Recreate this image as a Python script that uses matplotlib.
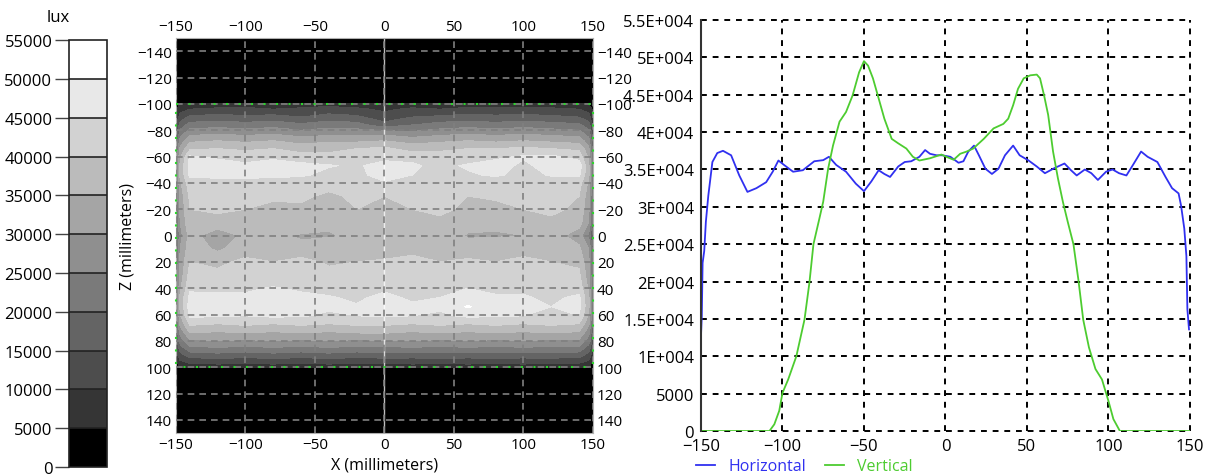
import numpy as np
import matplotlib
matplotlib.use("Agg")
import matplotlib.pyplot as plt
from matplotlib.colors import ListedColormap, BoundaryNorm
from matplotlib.cm import ScalarMappable

plt.rcParams['font.family'] = ['Open Sans', 'DejaVu Sans']
plt.rcParams['font.size'] = 12

# --- colour bands (lux) ---
bounds = [0, 5000, 10000, 15000, 20000, 25000, 30000, 35000, 40000, 45000, 50000, 55000]
band_colors = ['#000000', '#353535', '#4d4d4d', '#646464', '#7a7a7a', '#8f8f8f',
               '#a5a5a5', '#bbbbbb', '#d2d2d2', '#e8e8e8', '#ffffff']

# --- illuminance map, values in klux, rows = Z, cols = X ---
map_x = [-150, -147, -140, -120, -100, -80, -60, -40, -20, 0, 20, 40, 60, 80, 100, 120, 140, 147, 150]
map_z = [-150, -101, -100, -96, -90, -84, -78, -72, -66, -60, -53, -46, -40, -30, -20, -10, 0,
         10, 20, 30, 40, 47, 54, 61, 67, 73, 79, 85, 91, 96, 100, 101, 150]
map_klux = [
    [0, 0, 0, 0, 0, 0, 0, 0, 0, 0, 0, 0, 0, 0, 0, 0, 0, 0, 0],
    [0, 0, 0, 0, 0, 0, 0, 0, 0, 0, 0, 0, 0, 0, 0, 0, 0, 0, 0],
    [2, 5, 7, 7, 8, 7, 7, 8, 7, 6, 7, 7, 8, 7, 8, 7, 7, 5, 2],
    [4, 8, 10, 11, 11, 10, 11, 12, 11, 9, 11, 10, 11, 12, 11, 11, 10, 8, 4],
    [6, 12, 16, 17, 16, 17, 15, 17, 16, 12, 15, 16, 17, 16, 17, 16, 15, 12, 6],
    [9, 17, 22, 23, 22, 23, 21, 23, 22, 17, 20, 22, 23, 22, 23, 22, 21, 17, 9],
    [12, 22, 28, 29, 28, 29, 27, 28, 28, 28, 26, 28, 29, 28, 29, 28, 27, 22, 12],
    [15, 27, 34, 35, 34, 35, 33, 34, 34, 35, 33, 34, 35, 34, 35, 34, 33, 27, 15],
    [18, 31, 39, 40, 39, 40, 38, 39, 40, 41, 38, 39, 40, 40, 41, 40, 39, 31, 18],
    [20, 34, 45.5, 44, 43, 44, 42, 41, 43, 42.5, 43, 42, 41, 44, 45.5, 46, 43, 34, 20],
    [21, 36, 47, 47.5, 46, 47, 46.5, 45.5, 44, 48, 46, 43, 46, 47, 44, 47, 48, 36, 21],
    [21, 36, 46, 47, 46.5, 45.5, 46, 43, 42, 49.5, 45, 42, 44, 46, 43, 45.5, 46, 36, 21],
    [20, 34, 43, 42, 43, 44, 41, 42, 41, 44, 42, 41, 42, 41, 43, 42, 42, 34, 20],
    [19, 32, 41, 40, 41, 42, 41, 39, 41, 40, 41, 42, 40, 41, 42, 41, 40, 32, 19],
    [18, 31, 40, 41, 40, 37, 39, 38.5, 40, 38, 40, 41, 39, 38, 40, 41, 39, 31, 18],
    [18, 30, 39, 38, 37, 36, 38, 36, 38.5, 37, 38, 39, 37, 36, 38, 39, 37, 30, 18],
    [13, 28, 37, 32, 36, 36, 34.5, 34.5, 36, 37, 37, 38, 34.5, 34.5, 35, 37.5, 32.5, 24, 13],
    [18, 30, 38, 34, 38, 37, 36, 38, 37, 38, 39, 38, 37, 38, 37, 38, 36, 30, 18],
    [19, 31, 40, 39, 41, 40, 42, 39, 40, 40.5, 41, 40, 41, 40, 42, 40, 39, 31, 19],
    [19, 32, 42, 41, 42, 41, 43, 42, 41, 42, 43, 42, 43, 41, 42, 43, 41, 32, 19],
    [20, 34, 44, 43, 44, 45.5, 44, 43, 42, 44, 43.5, 44, 45, 43, 44, 44, 43, 34, 20],
    [21, 36, 46.5, 47, 46, 47, 46.5, 45.5, 44, 46.5, 44, 45, 47, 46, 45.5, 44, 46, 36, 21],
    [21, 36, 47.5, 47, 46, 47.5, 47, 46, 45.5, 47.5, 46, 46, 50.5, 47, 46, 45, 46.5, 36, 21],
    [20, 34, 46, 45.5, 45, 46, 45.5, 44, 45, 45.5, 45, 44, 46, 45.5, 45, 44, 45, 34, 20],
    [18, 31, 41, 40, 41, 40, 41, 40, 41, 41, 40, 41, 40, 41, 40, 41, 40, 31, 18],
    [16, 27, 36, 35, 36, 35, 36, 35, 36, 36, 35, 36, 35, 36, 35, 36, 35, 27, 16],
    [13, 23, 30, 31, 30, 31, 30, 31, 30, 31, 31, 30, 31, 30, 31, 30, 30, 23, 13],
    [10, 18, 24, 25, 24, 25, 24, 25, 24, 24, 25, 24, 25, 24, 25, 24, 24, 18, 10],
    [7, 13, 17, 18, 17, 18, 17, 18, 17, 18, 17, 18, 17, 18, 17, 18, 17, 13, 7],
    [4, 9, 11, 12, 11, 12, 11, 12, 11, 11, 12, 11, 12, 11, 12, 11, 11, 9, 4],
    [2, 5, 7, 7, 8, 7, 8, 7, 8, 6, 7, 8, 7, 8, 7, 8, 7, 5, 2],
    [0, 0, 0, 0, 0, 0, 0, 0, 0, 0, 0, 0, 0, 0, 0, 0, 0, 0, 0],
    [0, 0, 0, 0, 0, 0, 0, 0, 0, 0, 0, 0, 0, 0, 0, 0, 0, 0, 0],
]
lit_half_x = 150
lit_half_z = 100

# --- line profiles (lux) ---
horiz_x = [-150, -149.5, -149, -148, -147, -145.5, -143, -140, -136.5, -131.5, -126.5, -121.5,
           -116, -110, -106, -102.5, -99, -93.5, -87.5, -80.5, -75, -71.5, -67, -61, -55, -50,
           -45.5, -41, -37.5, -34, -29, -25, -21, -16, -12.5, -9.5, -5.5, -2, 3, 8, 11, 14, 17.5,
           20.5, 24.5, 28.5, 32.5, 36.5, 41.5, 45.5, 51, 56, 61, 67, 73, 77, 80.5, 85.5, 89.5,
           93.5, 98.5, 102.5, 106.5, 111, 115, 120, 124, 130, 135, 139, 143, 144.5, 146.5,
           147.8, 148.4, 149.4]
horiz_lux = [12700, 15400, 22500, 24100, 28000, 31500, 36000, 37200, 37500, 36900, 34200, 32000,
             32500, 33300, 34700, 36200, 35600, 34700, 34900, 36100, 36250, 36700, 35600, 34700,
             33100, 32100, 33400, 34900, 34400, 34000, 35400, 36000, 36100, 36700, 37600, 37100,
             36900, 36900, 36700, 35900, 36100, 37400, 38200, 36900, 35100, 34400, 35100, 36900,
             38200, 36900, 36200, 35400, 34500, 35200, 35800, 34900, 34200, 35000, 34500, 33600,
             34700, 35000, 34500, 34200, 35600, 37400, 36700, 36000, 34000, 32500, 31800, 30200,
             27100, 23400, 16300, 13600]
vert_z = [-150, -108, -105, -102, -100, -96.5, -91.5, -86.5, -83.5, -81, -77.5, -75, -72, -69,
          -65, -61, -57, -53, -50, -47.5, -44.5, -41.5, -37.5, -33, -29, -24, -20, -16, -9.5,
          -2.5, 0.5, 5, 9, 13, 17, 23.5, 29.5, 35.5, 38.5, 41.5, 44.5, 48, 52, 56, 58, 60.5, 63,
          66, 69, 72, 75, 78.5, 81.5, 84.5, 88, 92, 96, 100, 103, 107, 150]
vert_lux = [0, 0, 900, 2700, 5100, 6900, 10000, 14900, 19800, 25000, 28300, 30700, 35100, 38200,
            41400, 42700, 44900, 48000, 49500, 48900, 47200, 44900, 41800, 39100, 38500, 37800,
            36700, 36200, 36500, 37000, 36700, 36300, 37100, 37400, 37800, 39100, 40500, 41100,
            41800, 43600, 45800, 47200, 47600, 47700, 47200, 44900, 42300, 37400, 33800, 30700,
            28000, 25000, 20300, 14900, 11200, 8300, 6900, 4000, 1600, 0, 0]

x_ticks = [-150, -100, -50, 0, 50, 100, 150]
z_ticks = [-140, -120, -100, -80, -60, -40, -20, 0, 20, 40, 60, 80, 100, 120, 140]
lux_ticks = [0, 5000, 10000, 15000, 20000, 25000, 30000, 35000, 40000, 45000, 50000, 55000]
lux_labels = ['0', '5000', '1E+004', '1.5E+004', '2E+004', '2.5E+004', '3E+004',
              '3.5E+004', '4E+004', '4.5E+004', '5E+004', '5.5E+004']

fig = plt.figure(figsize=(12.21, 4.77), dpi=100)
cmap = ListedColormap(band_colors)
norm = BoundaryNorm(bounds, cmap.N)

# colour bar
cax = fig.add_axes([0.0565, 0.0189, 0.0311, 0.895])
cb = fig.colorbar(ScalarMappable(norm=norm, cmap=cmap), cax=cax, ticks=bounds, drawedges=True)
cb.outline.set_edgecolor('#222222')
cb.outline.set_linewidth(1.2)
cb.dividers.set_color('#222222')
cb.dividers.set_linewidth(1.2)
cax.yaxis.set_ticks_position('left')
cax.tick_params(length=10, width=1, color='#444444', pad=2)
fig.text(0.0475, 0.962, 'lux', ha='center', va='center')

# map
ax = fig.add_axes([0.1441, 0.0901, 0.3415, 0.828])
ax.contourf(map_x, map_z, np.array(map_klux) * 1000, levels=bounds, colors=band_colors)
ax.axvline(0, color='white', lw=1.0, alpha=0.75, zorder=1.2)
ax.plot([-lit_half_x, lit_half_x, lit_half_x, -lit_half_x, -lit_half_x],
        [-lit_half_z, -lit_half_z, lit_half_z, lit_half_z, -lit_half_z],
        color='#2bd62b', ls=(0, (1, 5)), lw=1.5, zorder=3, clip_on=False)
ax.set_xlim(-150, 150)
ax.set_ylim(150, -150)
ax.set_xticks(x_ticks)
ax.set_yticks(z_ticks)
ax.set_axisbelow(False)
ax.grid(True, color='#808080', ls=(0, (4, 3)), lw=1.2)
ax.tick_params(length=0, top=True, labeltop=True, right=True, labelright=True, pad=3,
               labelsize=11)
for s in ax.spines.values():
    s.set_color('#b0b0b0')
ax.set_xlabel('X (millimeters)', labelpad=3, fontsize=11.5)
ax.set_ylabel('Z (millimeters)', labelpad=1, fontsize=11.5)

# profiles
ax2 = fig.add_axes([0.5741, 0.0943, 0.4005, 0.8616])
ax2.plot(horiz_x, horiz_lux, color='#3030f0', lw=1.3, label='Horizontal')
ax2.plot(vert_z, vert_lux, color='#4dcc30', lw=1.3, label='Vertical')
ax2.set_xlim(-150, 150)
ax2.set_ylim(0, 55000)
ax2.set_xticks(x_ticks)
ax2.set_yticks(lux_ticks)
ax2.set_yticklabels(lux_labels)
ax2.grid(True, color='black', ls=(0, (3, 3)), lw=1.4)
for g in ax2.get_xgridlines() + ax2.get_ygridlines():
    g.set_clip_on(False)
for k in ['top', 'right', 'bottom']:
    ax2.spines[k].set_visible(False)
ax2.spines['left'].set_color('#333333')
ax2.spines['left'].set_linewidth(1.5)
ax2.tick_params(length=0, pad=5)
ax2.legend(loc='upper left', bbox_to_anchor=(-0.01, -0.066), ncol=2, frameon=False,
           labelcolor='linecolor', handlelength=1.2, columnspacing=1.2, borderaxespad=0,
           handletextpad=0.8, fontsize=11.5, borderpad=0)

fig.savefig('out.png', dpi=100)
